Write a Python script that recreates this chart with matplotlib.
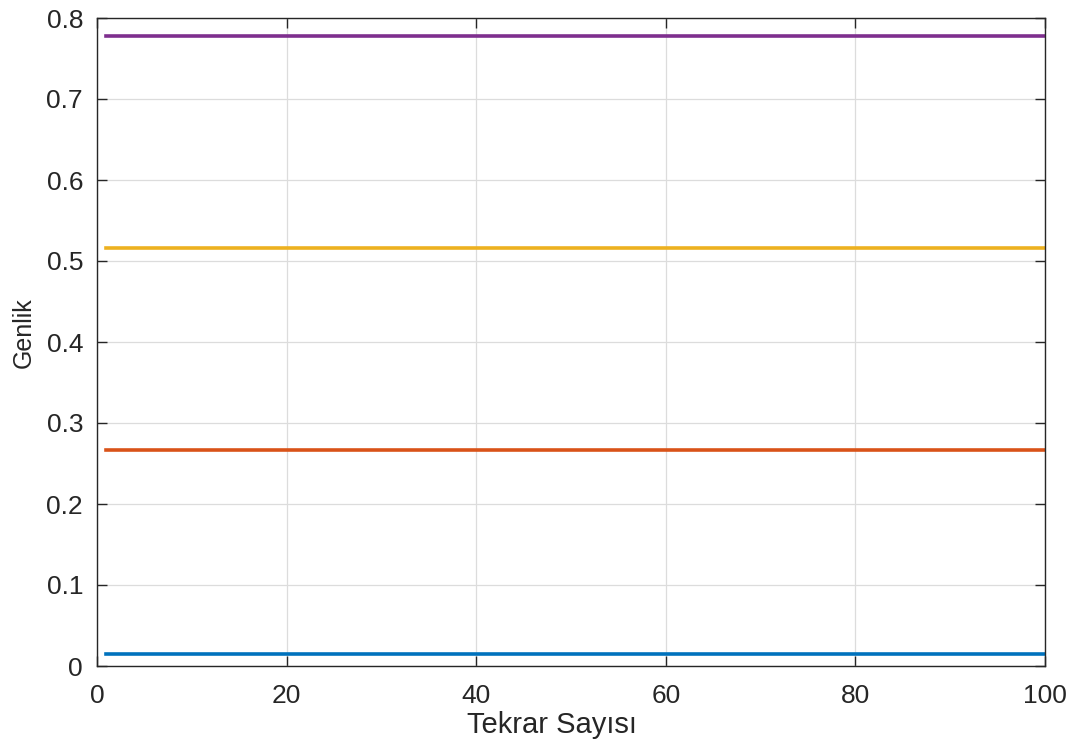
import numpy as np
import matplotlib.pyplot as plt

plt.rcParams['font.family'] = ['Liberation Sans', 'DejaVu Sans']

# tekrar sayisi (iteration) and constant amplitude levels
iterations = list(range(1, 101))
levels = [0.0148, 0.267, 0.516, 0.778]
colors = ['#0072BD', '#D95319', '#EDB120', '#7E2F8E']

fig = plt.figure(figsize=(10.79, 7.44), dpi=100)
ax = fig.add_axes([97 / 1079, 78 / 744, 948 / 1079, 648 / 744])

for lvl, c in zip(levels, colors):
    ax.plot(iterations, [lvl] * len(iterations), color=c, lw=2.6)

ax.set_xlim(0, 100)
ax.set_ylim(0, 0.8)
ax.set_xticks([0, 20, 40, 60, 80, 100])
ax.set_yticks(np.arange(0, 0.81, 0.1))
ax.set_yticklabels(['0', '0.1', '0.2', '0.3', '0.4', '0.5', '0.6', '0.7', '0.8'])

ax.grid(True, color='#dcdcdc', lw=0.9)
ax.set_axisbelow(True)
ax.tick_params(direction='in', length=7, width=1, colors='#262626', labelsize=19,
               top=True, right=True)
ax.tick_params(axis='x', pad=13)
ax.tick_params(axis='y', pad=10)
for s in ax.spines.values():
    s.set_color('#262626')
    s.set_linewidth(1)

ax.set_xlabel('Tekrar Sayısı', fontsize=21, color='#262626')
ax.set_ylabel('Genlik', fontsize=18, color='#262626')
ax.xaxis.set_label_coords(0.48, -0.07)
ax.xaxis.label.set_va('top')
ax.yaxis.set_label_coords(-0.077, 0.515)
ax.yaxis.label.set_va('center')

plt.savefig('out.png', dpi=100)
